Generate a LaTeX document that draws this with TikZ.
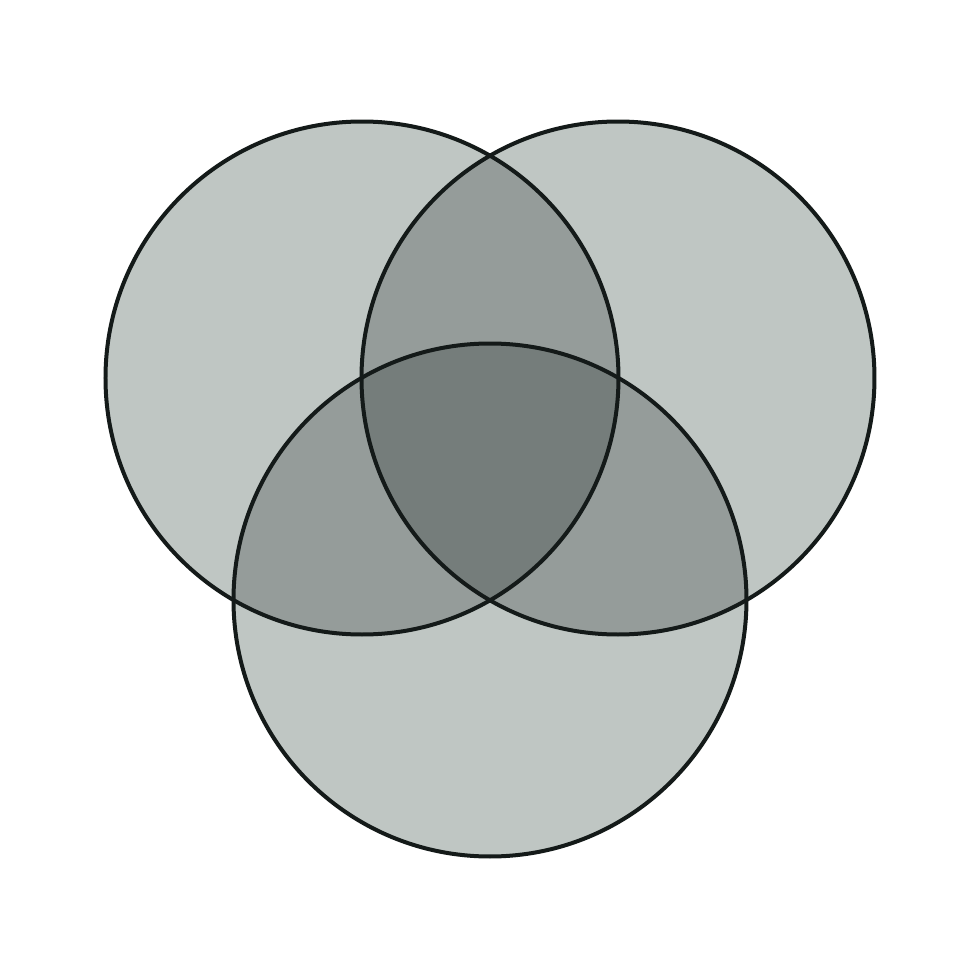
\documentclass[tikz,border=0pt]{standalone}
\usepackage{tikz}
\usepackage{xcolor}
\definecolor{fillone}{HTML}{BFC6C3}
\definecolor{filltwo}{HTML}{959C9A}
\definecolor{fillthree}{HTML}{757D7B}
\definecolor{rimgray}{HTML}{141A19}

\begin{document}
\begin{tikzpicture}[rim/.style = {draw=rimgray, line width=0.04cm}]
\useasboundingbox (0,0) rectangle (9.8,9.8);
\fill[white] (0,0) rectangle (9.8,9.8);

% circles
\def\circleleft{(3.62,6.02) circle (2.565)}
\def\circleright{(6.18,6.02) circle (2.565)}
\def\circlebottom{(4.90,3.80) circle (2.565)}

% single regions
\fill[fillone] \circleleft;
\fill[fillone] \circleright;
\fill[fillone] \circlebottom;

% pairwise overlaps
\begin{scope}
\clip \circleleft;
\fill[filltwo] \circleright;
\fill[filltwo] \circlebottom;
\end{scope}
\begin{scope}
\clip \circleright;
\fill[filltwo] \circlebottom;
\end{scope}

% centre overlap
\begin{scope}
\clip \circleleft;
\clip \circleright;
\fill[fillthree] \circlebottom;
\end{scope}

% outlines
\draw[rim] \circleleft;
\draw[rim] \circleright;
\draw[rim] \circlebottom;

\end{tikzpicture}
\end{document}
